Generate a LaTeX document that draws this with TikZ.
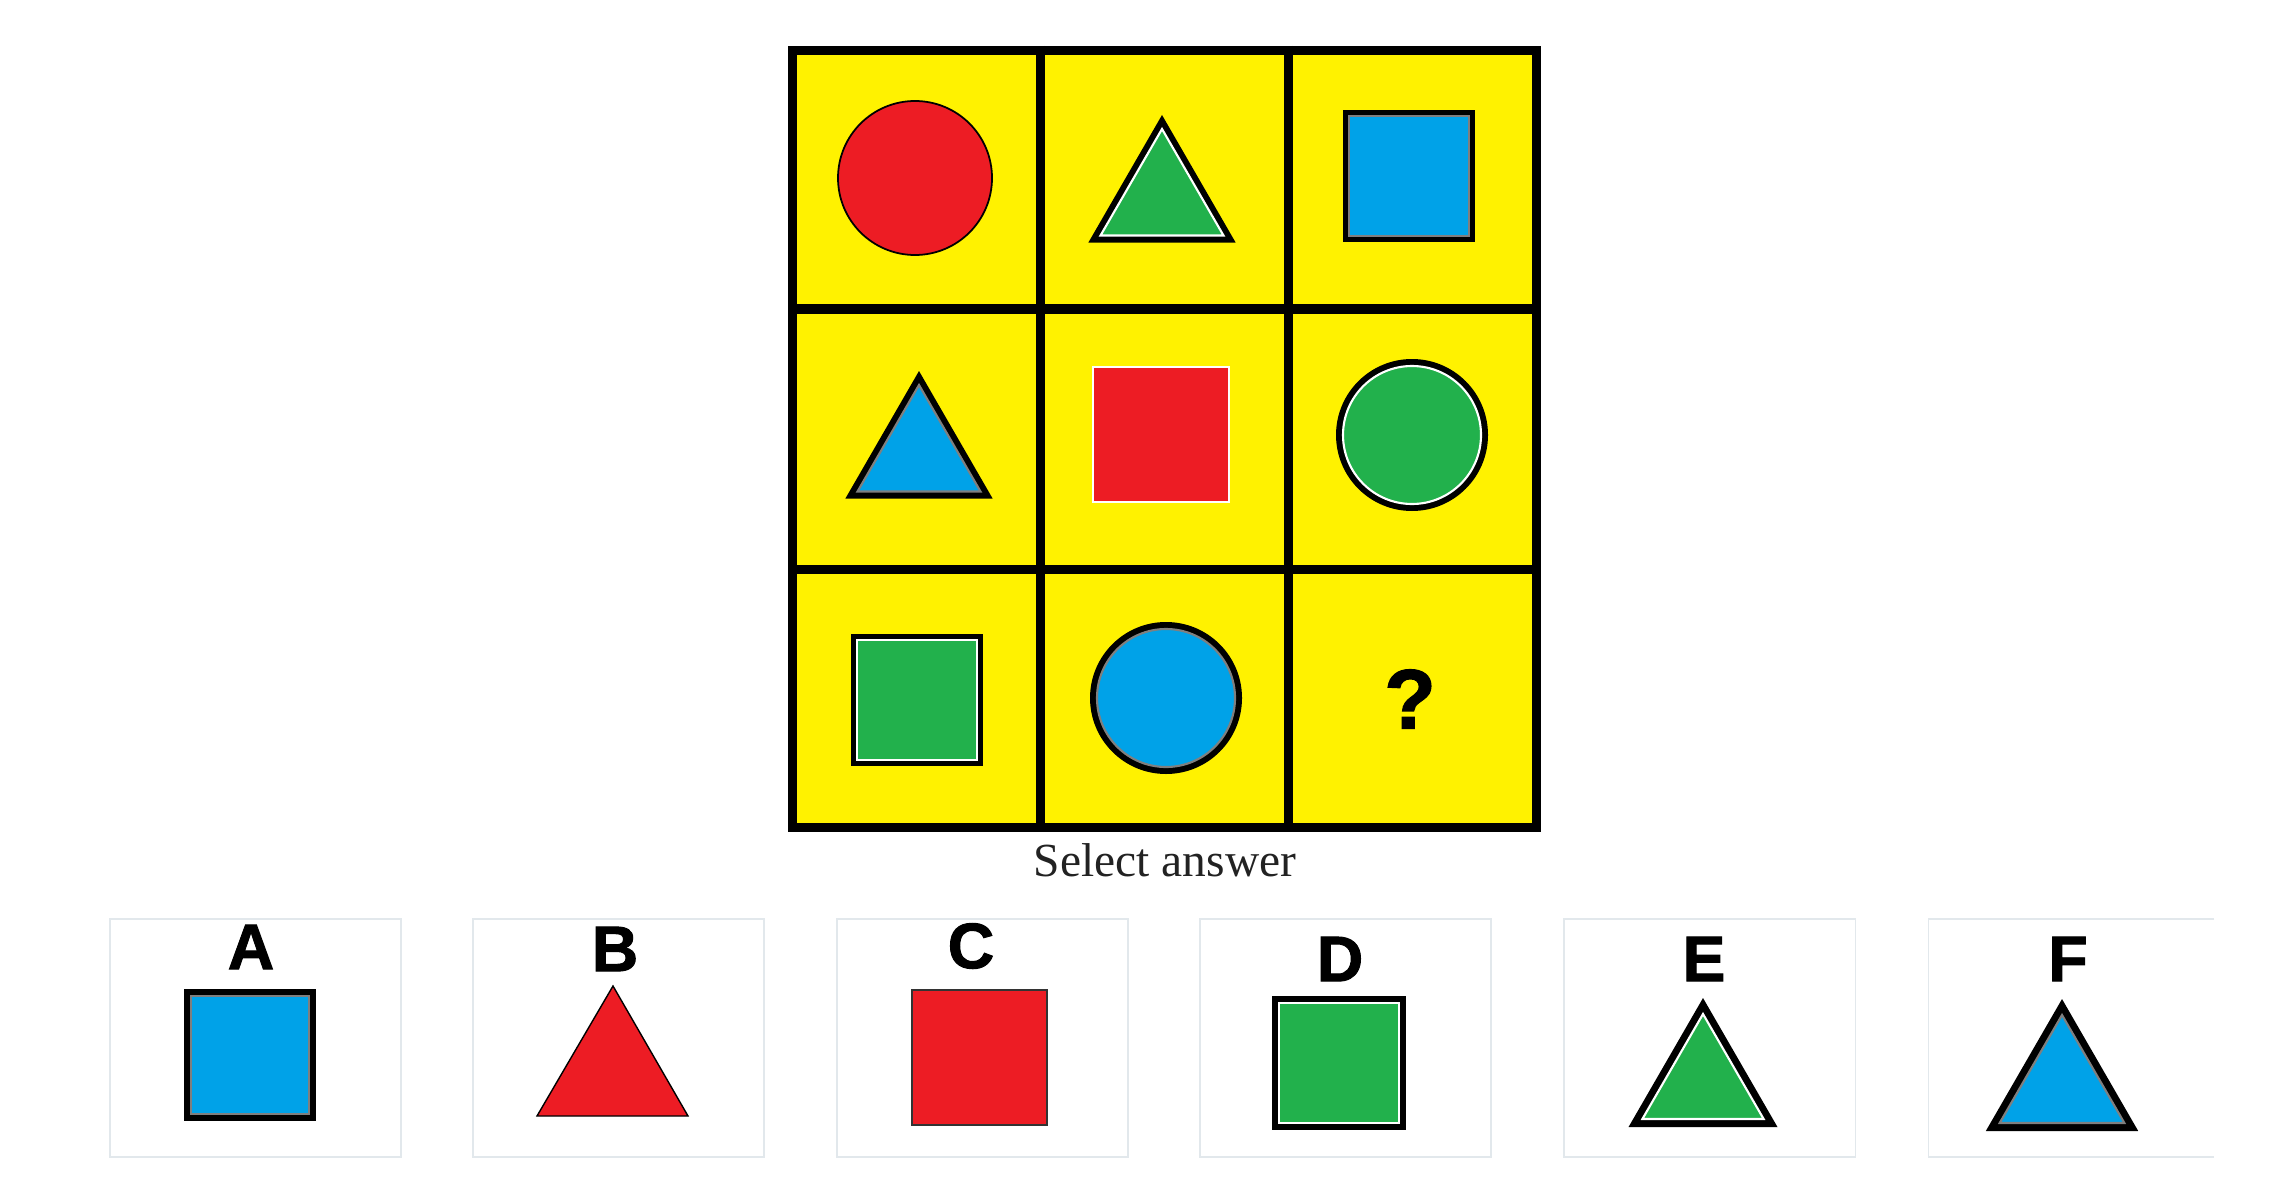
\documentclass[tikz,border=0pt]{standalone}
\usepackage{fontspec}
\setmainfont{Liberation Serif}
\newfontfamily\lblfont[BoldFeatures={FakeBold=1.5}]{Liberation Sans}
\definecolor{pzyellow}{RGB}{255, 242, 0}
\definecolor{pzred}{RGB}{237, 28, 36}
\definecolor{pzgreen}{RGB}{34, 177, 76}
\definecolor{pzblue}{RGB}{0, 162, 232}
\definecolor{pzgray}{RGB}{127, 127, 127}
\definecolor{optframe}{RGB}{226, 232, 236}
\definecolor{prompttext}{RGB}{34, 34, 34}
\def\boxsq#1#2#3#4#5#6{
    \fill[black] (#1-#3, #2-#3) rectangle (#1+#3, #2+#3);
    \filldraw[fill=#4, draw=#5, line width=0.6pt] (#1-#3+#6, #2-#3+#6) rectangle (#1+#3-#6, #2+#3-#6);
}
\def\boxtri#1#2#3#4#5#6{
    \fill[black] (#1, #2-#3) -- (#1+0.866*#3, #2+0.5*#3) -- (#1-0.866*#3, #2+0.5*#3) -- cycle;
    \filldraw[fill=#4, draw=#5, line width=0.6pt] (#1, #2-#3+2*#6) -- (#1+0.866*#3-1.732*#6, #2+0.5*#3-#6) -- (#1-0.866*#3+1.732*#6, #2+0.5*#3-#6) -- cycle;
}
\def\boxcirc#1#2#3#4#5#6{
    \fill[black] (#1, #2) circle (#3);
    \filldraw[fill=#4, draw=#5, line width=0.6pt] (#1, #2) circle (#3-#6);
}
\def\optbox#1{
    \draw[optframe, line width=0.3pt] (#1, 919) rectangle (#1+291, 1157);
}

\begin{document}
\begin{tikzpicture}[x=0.01cm, y=-0.01cm]
\tikzset{gridline/.style={black, line width=0.09cm},
    optlabel/.style={inner sep=0, anchor=center, font=\lblfont\bfseries\fontsize{18.3}{20}\selectfont}}

\useasboundingbox[fill=white] (0, 0) rectangle (2276, 1197);

\fill[pzyellow] (788, 46) rectangle (1541, 832);
\draw[gridline] (1040, 46) -- (1040, 832);
\draw[gridline] (1288, 46) -- (1288, 832);
\draw[gridline] (788, 309) -- (1541, 309);
\draw[gridline] (788, 569) -- (1541, 569);
\draw[gridline] (792.5, 50.5) rectangle (1536.5, 827.5);

\filldraw[fill=pzred, draw=black, line width=0.5pt] (915, 178) circle (77);
\boxtri{1162}{200}{85}{pzgreen}{white}{7}
\boxsq{1409}{176}{66}{pzblue}{pzgray}{6}

\boxtri{919}{456}{85}{pzblue}{pzgray}{7}
\filldraw[fill=pzred, draw=white, line width=0.5pt] (1093, 367) rectangle (1229, 502);
\boxcirc{1412}{435}{76}{pzgreen}{white}{7}

\boxsq{917}{700}{66}{pzgreen}{white}{6}
\boxcirc{1166}{698}{76}{pzblue}{pzgray}{7}
\node[optlabel, font=\lblfont\bfseries\fontsize{24}{26}\selectfont] (qmark) at (1410, 699) {?};

\node[anchor=base, prompttext, inner sep=0, font=\fontsize{13.5}{16}\selectfont] (prompt) at (1165, 876) {Select answer};

\optbox{110}
\node[optlabel] (labA) at (251, 947) {A};
\boxsq{250}{1055}{66}{pzblue}{pzgray}{7}

\optbox{473}
\node[optlabel] (labB) at (615, 949) {B};
\filldraw[fill=pzred, draw=black, line width=0.4pt] (613, 986) -- (688, 1116) -- (537, 1116) -- cycle;

\optbox{837}
\node[optlabel] (labC) at (971, 946) {C};
\filldraw[fill=pzred, draw=black!80, line width=0.4pt] (912, 990) rectangle (1047, 1125);

\optbox{1200}
\node[optlabel] (labD) at (1340, 959) {D};
\boxsq{1339}{1063}{67}{pzgreen}{white}{7}

\optbox{1564}
\node[optlabel] (labE) at (1704, 959) {E};
\boxtri{1703}{1084}{86}{pzgreen}{white}{8}

\draw[optframe, line width=0.3pt] (2214, 919) -- (1928, 919) -- (1928, 1157) -- (2214, 1157);
\node[optlabel] (labF) at (2068, 959) {F};
\boxtri{2062}{1087}{88}{pzblue}{pzgray}{8}
\end{tikzpicture}
\end{document}
